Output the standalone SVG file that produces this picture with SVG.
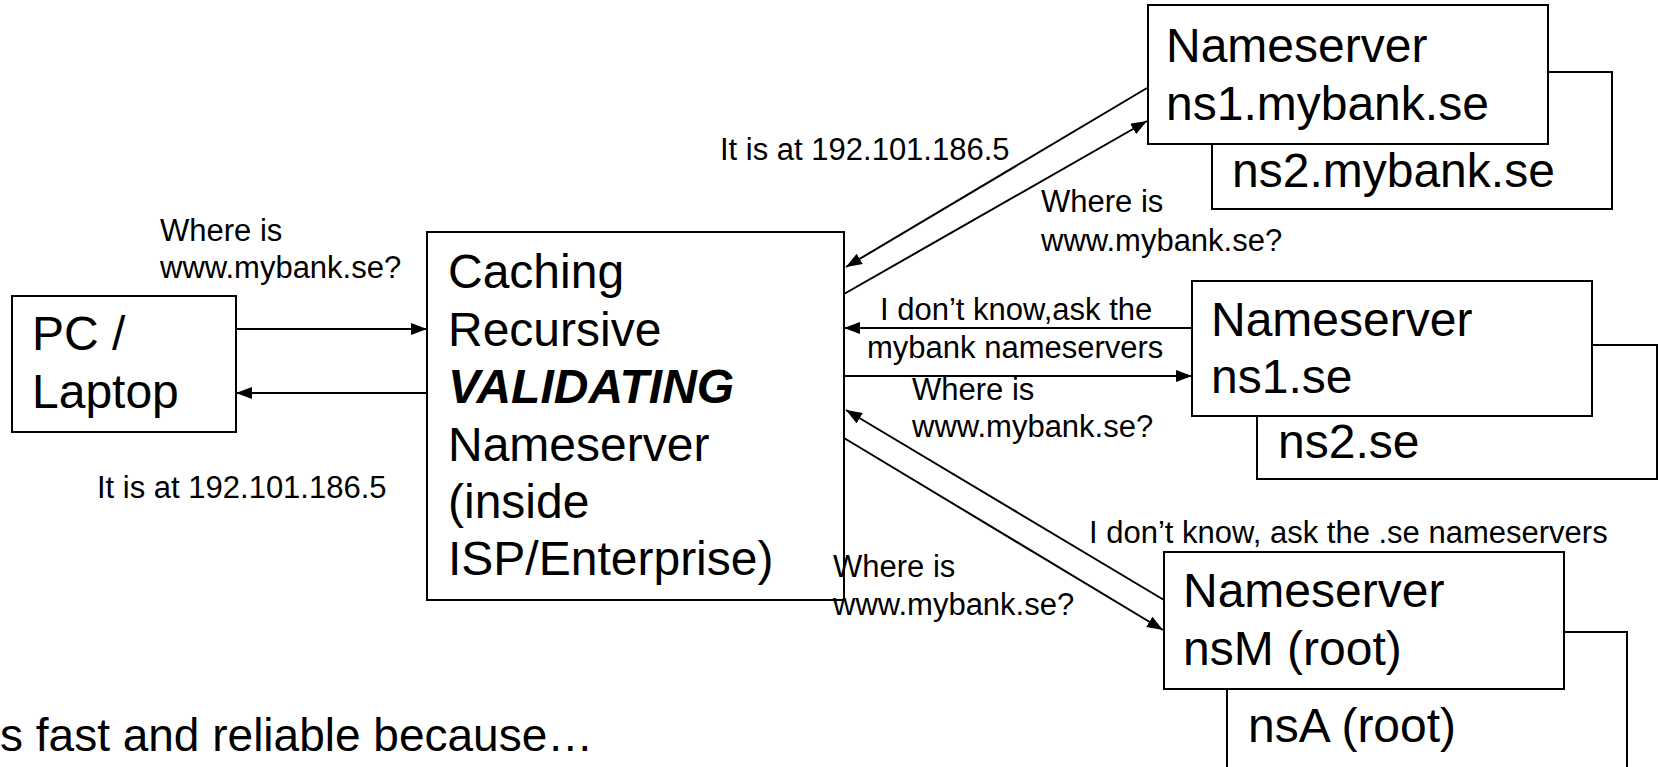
<svg xmlns="http://www.w3.org/2000/svg" width="1659" height="767" viewBox="0 0 1659 767">
<style>
.box{fill:#fff;stroke:#000;stroke-width:2}
.big{font-family:"Liberation Sans",Arial,sans-serif;font-size:48px;fill:#000}
.lbl{font-family:"Liberation Sans",Arial,sans-serif;font-size:31px;fill:#000}
.bi{font-weight:bold;font-style:italic}
.conn line{stroke:#000;stroke-width:2;fill:none}
</style>
<defs>
<marker id="ah" markerUnits="userSpaceOnUse" markerWidth="16" markerHeight="12" refX="16" refY="6" orient="auto">
<path d="M0,0 L16,6 L0,12 Z" fill="#000"/>
</marker>
</defs>
<g id="pc">
<rect class="box" x="12" y="296" width="224" height="136"/>
<text class="big" x="32" y="350">PC /</text>
<text class="big" x="32" y="408">Laptop</text>
</g>
<g id="resolver">
<rect class="box" x="427" y="232" width="417" height="368"/>
<text class="big" x="448" y="288">Caching</text>
<text class="big" x="448" y="346">Recursive</text>
<text class="big bi" x="448" y="403">VALIDATING</text>
<text class="big" x="448" y="461">Nameserver</text>
<text class="big" x="448" y="518">(inside</text>
<text class="big" x="448" y="575">ISP/Enterprise)</text>
</g>
<g id="ns-mybank">
<rect class="box" x="1212" y="72" width="400" height="137"/>
<text class="big" x="1232" y="187">ns2.mybank.se</text>
<rect class="box" x="1148" y="5" width="400" height="139"/>
<text class="big" x="1166" y="62">Nameserver</text>
<text class="big" x="1166" y="120">ns1.mybank.se</text>
</g>
<g id="ns-se">
<rect class="box" x="1257" y="345" width="400" height="134"/>
<text class="big" x="1278" y="458">ns2.se</text>
<rect class="box" x="1192" y="281" width="400" height="135"/>
<text class="big" x="1211" y="336">Nameserver</text>
<text class="big" x="1211" y="393">ns1.se</text>
</g>
<g id="ns-root">
<rect class="box" x="1227" y="632" width="400" height="150"/>
<text class="big" x="1248" y="742">nsA (root)</text>
<rect class="box" x="1164" y="552" width="400" height="137"/>
<text class="big" x="1183" y="607">Nameserver</text>
<text class="big" x="1183" y="665">nsM (root)</text>
</g>
<g id="connectors" class="conn">
<line x1="236" y1="329" x2="427" y2="329" marker-end="url(#ah)"/>
<line x1="427" y1="393" x2="236" y2="393" marker-end="url(#ah)"/>
<line x1="1147" y1="88" x2="846" y2="267" marker-end="url(#ah)"/>
<line x1="844" y1="294" x2="1147" y2="121" marker-end="url(#ah)"/>
<line x1="1192" y1="328" x2="844" y2="328" marker-end="url(#ah)"/>
<line x1="844" y1="376" x2="1192" y2="376" marker-end="url(#ah)"/>
<line x1="1164" y1="600" x2="846" y2="410" marker-end="url(#ah)"/>
<line x1="844" y1="438" x2="1163" y2="630" marker-end="url(#ah)"/>
</g>
<g id="labels">
<text class="lbl" x="160" y="241">Where is</text>
<text class="lbl" x="160" y="278">www.mybank.se?</text>
<text class="lbl" x="97" y="498">It is at 192.101.186.5</text>
<text class="lbl" x="720" y="160">It is at 192.101.186.5</text>
<text class="lbl" x="1041" y="212">Where is</text>
<text class="lbl" x="1041" y="251">www.mybank.se?</text>
<text class="lbl" x="880" y="320">I don’t know,ask the</text>
<text class="lbl" x="867" y="358">mybank nameservers</text>
<text class="lbl" x="912" y="400">Where is</text>
<text class="lbl" x="912" y="437">www.mybank.se?</text>
<text class="lbl" x="1089" y="543">I don’t know, ask the .se nameservers</text>
<text class="lbl" x="833" y="577">Where is</text>
<text class="lbl" x="833" y="615">www.mybank.se?</text>
</g>
<text class="big" style="font-size:46px" x="0" y="751">s fast and reliable because…</text>
</svg>
